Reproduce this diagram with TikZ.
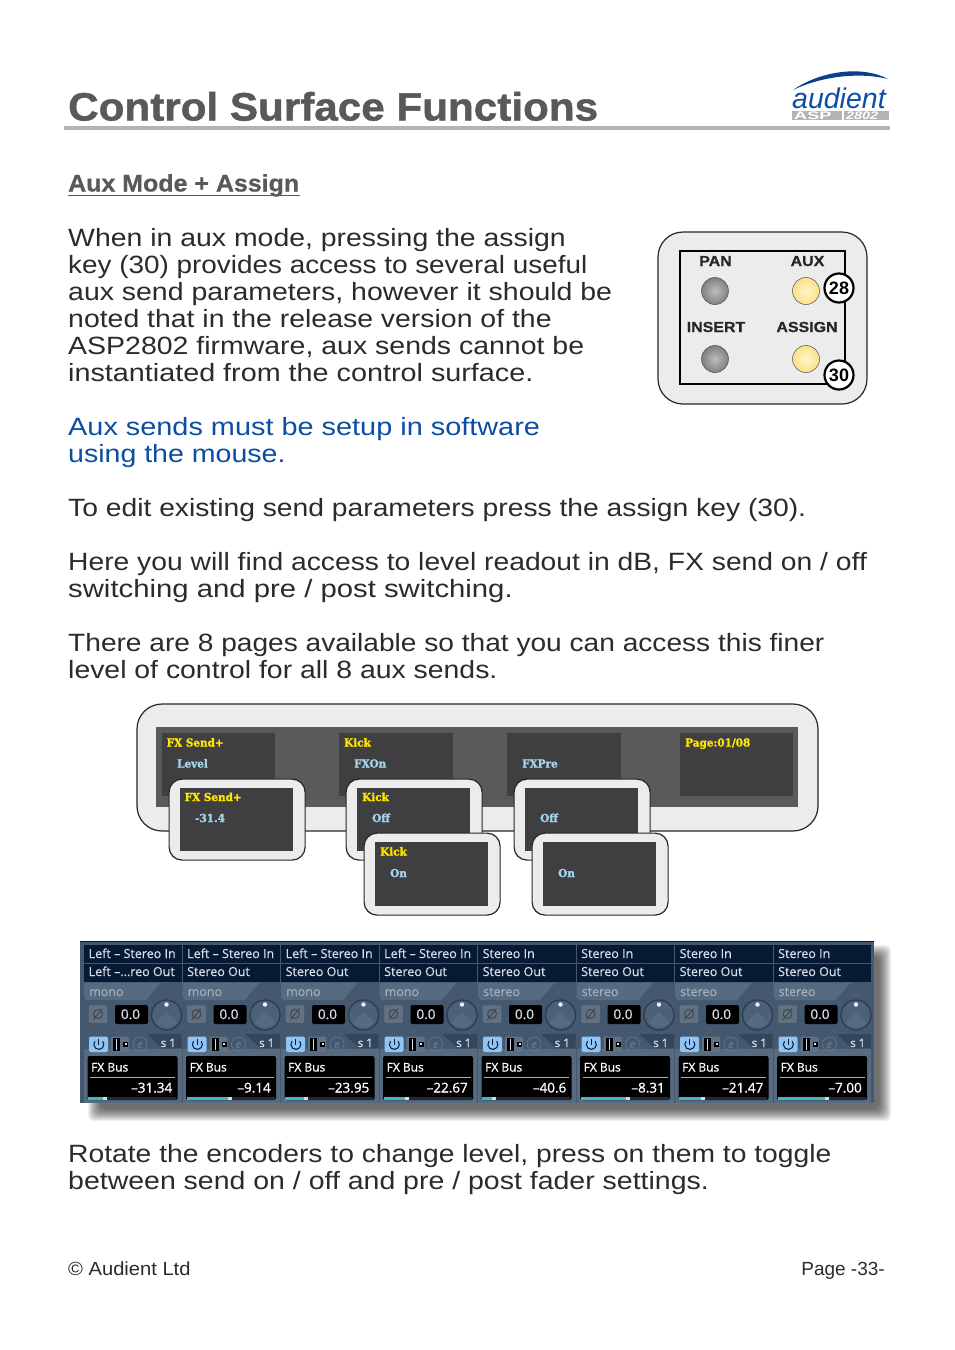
\documentclass[tikz,border=0pt]{standalone}
\usepackage{fontspec}
\setmainfont[FakeStretch=1.13]{Liberation Sans}
\newfontfamily\plainfont{Liberation Sans}
\newfontfamily\titlefont[FakeStretch=1.06,BoldFeatures={FakeBold=1.2}]{Liberation Sans}
\newfontfamily\headfont[FakeStretch=1.03,BoldFeatures={FakeBold=0.6}]{Liberation Sans}
\newfontfamily\keyfont[FakeStretch=1.1,BoldFeatures={FakeBold=0.6}]{Liberation Sans}
\newfontfamily\footfont[FakeStretch=1.06]{Liberation Sans}
\newfontfamily\lcdfont[FakeStretch=0.95,BoldFeatures={FakeBold=1.5}]{DejaVu Serif}
\newfontfamily\mixfont[FakeStretch=1,FakeBold=0.5]{Open Sans}
\newfontfamily\mixboldfont[FakeStretch=1,FakeBold=1]{Open Sans}
\newcommand{\sx}[2]{\scalebox{#1}[1]{#2}}
\definecolor{titlegray}{HTML}{58595B}
\definecolor{bodytxt}{HTML}{2B2B2B}
\definecolor{linkblue}{HTML}{0B4EA2}
\definecolor{ruleg}{HTML}{B3B3B3}
\definecolor{panelg}{HTML}{ECECEC}
\definecolor{lcdouter}{HTML}{5A5A5C}
\definecolor{lcdin}{HTML}{3F3F41}
\definecolor{lcdy}{HTML}{FFE600}
\definecolor{lcdb}{HTML}{A5D5EC}
\definecolor{mixbg}{HTML}{44586F}
\definecolor{mixdark}{HTML}{071A33}
\definecolor{mixband}{HTML}{566A80}
\definecolor{mixtab}{HTML}{33465B}
\definecolor{mixtxt}{HTML}{D5DEE8}
\definecolor{mixgr}{HTML}{A3AEBA}
\definecolor{mixbtn}{HTML}{5F7184}
\definecolor{cyanbar}{HTML}{3FB8C8}
\definecolor{pwrblue}{HTML}{8FC4F5}
\definecolor{ledgo}{HTML}{808080}
\definecolor{ledgi}{HTML}{BDBDBD}
\definecolor{ledyo}{HTML}{FBE08A}
\definecolor{ledyi}{HTML}{FFF6CC}
\tikzset{x=1pt,y=-1pt,
 bodyline/.style={anchor=base west,inner sep=0,text=bodytxt,font=\fontsize{25}{27}\selectfont},
 linkline/.style={bodyline,text=linkblue},
 panel/.style={draw=black!85,line width=1.2pt,fill=panelg,rounded corners=13pt},
 lcdtop/.style={anchor=base west,inner sep=0,text=lcdy,font=\lcdfont\bfseries\fontsize{11}{11}\selectfont},
 lcdval/.style={anchor=base west,inner sep=0,text=lcdb,font=\lcdfont\bfseries\fontsize{11}{11}\selectfont},
 keylabel/.style={inner sep=0,anchor=base,font=\keyfont\bfseries\fontsize{14.5}{14.5}\selectfont,text=black!85},
 numring/.style={circle,draw=black,line width=2.2pt,fill=white,minimum size=29pt,inner sep=0,font=\plainfont\bfseries\fontsize{18}{18}\selectfont},
 mixt/.style={anchor=base west,inner sep=0,text=mixtxt,font=\mixfont\fontsize{12.5}{12.5}\selectfont},
 mixg/.style={anchor=base west,inner sep=0,text=mixgr,font=\mixfont\fontsize{12.5}{12.5}\selectfont},
 mixw/.style={anchor=base west,inner sep=0,text=white,font=\mixboldfont\fontsize{12}{12}\selectfont},
 mixr/.style={anchor=base east,inner sep=0,text=white,font=\mixboldfont\fontsize{13.5}{13.5}\selectfont},
}
\newcommand{\lcdpop}[5]{% name x y w h
 \node[panel,minimum width=#4pt,minimum height=#5pt,inner sep=0,anchor=north west] (#1) at (#2,#3) {};
 \fill[lcdin] (#2+11.5,#3+9.5) rectangle (#2+#4-11.5,#3+#5-9);
}
\newcommand{\led}[5]{% name x y inner outer
 \node[circle,draw=black!70,line width=.5pt,minimum size=27pt,inner sep=0,shading=radial,inner color=#4,outer color=#5] (#1) at (#2,#3) {};
}
\newcommand{\strip}[7]{% x, line1, line2, mode, fader, barwidth, index
 \begin{scope}[shift={(#1,0)}]
 \fill[mixdark] (0,944.5) rectangle (97.5,962.5);
 \fill[mixdark] (0,963.5) rectangle (97.5,981.5);
 \fill[mixband] (0,982.5) -- (77,982.5) -- (62,1000) -- (3,1000) -- (0,997) -- cycle;
 \node[mixt] (x#7) at (4.5,958) {#2};
 \node[mixt] (a#7) at (4.5,976) {#3};
 \node[mixg] (m#7) at (5,996) {#4};
 \fill[mixbtn,draw=black!50,rounded corners=2pt] (5,1005.5) rectangle (23,1022.5);
 \draw[black!75,line width=.8pt] (14,1014) circle[radius=4.5pt] (9.5,1019.5)--(18.5,1008.5);
 \fill[black,rounded corners=2pt] (31,1005) rectangle (64,1024);
 \node[anchor=base,inner sep=0,text=mixtxt,font=\mixfont\fontsize{13.5}{13.5}\selectfont] (v#7) at (46.5,1019) {0.0};
 \fill[mixband!45!mixbg] (82.5,1015) circle[radius=15pt];
 \fill[mixband] (82.5,1012) -- (93,1022) .. controls (88,1029) and (77,1029) .. (72,1022) -- cycle;
 \draw[mixdark!85,line width=1.3pt] (82.5,1015) circle[radius=15pt];
 \fill[white!90!mixbtn] (82.5,1004.5) circle[radius=2.2pt];
 \fill[mixtab] (0,1034) -- (63,1034) -- (78,1048) -- (97.5,1048) -- (97.5,1034) -- cycle;
 \fill[mixbg] (0,1034) rectangle (63,1052);
 \fill[mixband] (0,1049) -- (97.5,1049) -- (97.5,1103) -- (0,1103) -- cycle;
 \fill[pwrblue,rounded corners=2pt] (5,1036.5) rectangle (24,1052);
 \draw[mixdark,line width=1pt] (14.5,1038.5) -- (14.5,1044.5);
 \draw[mixdark,line width=1pt] (11,1041.2) arc[start angle=140,delta angle=260,radius=5pt];
 \fill[mixbtn,rounded corners=1pt] (27,1036.5) rectangle (45,1052);
 \fill[black] (29,1037.5) rectangle (36,1051);
 \fill[mixtxt] (32,1038.5) rectangle (33.2,1050);
 \fill[black] (39,1041.5) rectangle (44,1046.5);
 \fill[mixtxt] (40.5,1043) rectangle (42.5,1045);
 \draw[mixband!90!white,line width=.6pt] (56,1044) circle[radius=7pt];
 \node[anchor=base,inner sep=0,text=mixband!90!white,font=\mixfont\itshape\fontsize{11}{11}\selectfont] (e#7) at (56,1048) {e};
 \node[anchor=base east,inner sep=0,text=mixtxt,font=\mixboldfont\fontsize{11.5}{11.5}\selectfont] (s#7) at (92,1047) {s 1};
 \fill[black,rounded corners=2pt] (3.5,1056) rectangle (93.5,1100);
 \draw[mixtxt!80!black,line width=.5pt] (6,1077) -- (91,1077);
 \node[mixw] (f#7) at (7,1071.5) {FX Bus};
 \node[mixr] (r#7) at (88.5,1092.5) {#5};
 \fill[black!60!mixband] (4,1097) rectangle (92,1099.5);
 \fill[cyanbar] (4,1097) rectangle (#6-4,1099.5);
 \fill[mixtxt] (#6-4,1097) rectangle (#6,1099.5);
 \end{scope}
}
\begin{document}
\begin{tikzpicture}
\useasboundingbox (0,0) rectangle (954,1350);
\fill[white] (0,0) rectangle (954,1350);
% title
\node[anchor=base west,inner sep=0,text=titlegray,font=\titlefont\bfseries\fontsize{39.5}{40}\selectfont] (title) at (68,120.5) {\sx{1.008}{Control Surface Functions}};
\fill[ruleg] (64,125.5) rectangle (890,130);
% logo
\fill[linkblue!85!black] (793,90) .. controls (820,71) and (862,65) .. (888,79) .. controls (860,72) and (822,76) .. (793,90) -- cycle;
\node[anchor=base west,inner sep=0,text=linkblue,font=\plainfont\itshape\fontsize{28.5}{28.5}\selectfont] (logo) at (792,108) {audient};
\fill[ruleg] (792,111) rectangle (889,119.5);
\fill[white] (842,111) rectangle (843.5,119.5);
\node[anchor=base west,inner sep=0,text=white,font=\plainfont\bfseries\fontsize{11}{11}\selectfont] (asp) at (794,119) {\sx{1.65}{ASP}};
\node[anchor=base west,inner sep=0,text=white,font=\plainfont\bfseries\itshape\fontsize{11}{11}\selectfont] (n2802) at (846,119) {\sx{1.3}{2802}};
% heading
\node[anchor=base west,inner sep=0,text=titlegray,font=\headfont\bfseries\fontsize{24}{24}\selectfont] (head) at (68,191.5) {\sx{1.01}{Aux Mode + Assign}};
\fill[titlegray] (68,194.5) rectangle (300,196);
% body
\node[bodyline] (l1) at (68,246) {\sx{1.006}{When in aux mode, pressing the assign}};
\node[bodyline] (l2) at (68,273) {\sx{0.987}{key (30) provides access to several useful}};
\node[bodyline] (l3) at (68,300) {\sx{1.007}{aux send parameters, however it should be}};
\node[bodyline] (l4) at (68,327) {\sx{1.006}{noted that in the release version of the}};
\node[bodyline] (l5) at (68,354) {\sx{1.008}{ASP2802 firmware, aux sends cannot be}};
\node[bodyline] (l6) at (68,381) {\sx{1.018}{instantiated from the control surface.}};
\node[linkline] (b1) at (68,435) {\sx{1.022}{Aux sends must be setup in software}};
\node[linkline] (b2) at (68,462) {\sx{1.01}{using the mouse.}};
\node[bodyline] (p1) at (68,516) {To edit existing send parameters press the assign key (30).};
\node[bodyline] (p2) at (68,570) {Here you will find access to level readout in dB, FX send on / off};
\node[bodyline] (p3) at (68,597) {\sx{1.037}{switching and pre / post switching.}};
\node[bodyline] (p4) at (68,651) {\sx{0.995}{There are 8 pages available so that you can access this finer}};
\node[bodyline] (p5) at (68,678) {\sx{1.005}{level of control for all 8 aux sends.}};
% key panel
\draw[draw=black!85,line width=1.2pt,fill=panelg,rounded corners=25pt] (658,232) rectangle (867,404);
\draw[black,line width=1.6pt] (680,251) rectangle (845,384);
\node[keylabel] (kpan) at (715.5,266) {PAN};
\node[keylabel] (kaux) at (807.5,266) {AUX};
\node[keylabel] (kins) at (716,332) {INSERT};
\node[keylabel] (kass) at (807,332) {ASSIGN};
\led{lpan}{715}{291}{ledgi}{ledgo}
\led{lins}{715}{359}{ledgi}{ledgo}
\led{laux}{806}{291}{ledyi}{ledyo}
\led{lass}{806}{359}{ledyi}{ledyo}
\node[numring] (n28) at (839,288) {28};
\node[numring] (n30) at (839,375) {30};
% LCD strip
\draw[panel,rounded corners=25pt,draw=black!85] (137,704) rectangle (818,831);
\fill[lcdouter] (156,727) rectangle (798,807);
\fill[lcdin] (162,733) rectangle (275,796);
\fill[lcdin] (339,733) rectangle (453,796);
\fill[lcdin] (507,733) rectangle (621,796);
\fill[lcdin] (680,733) rectangle (793,796);
\node[lcdtop] (t1) at (166.5,746.5) {FX Send+};
\node[lcdval] (t2) at (177,767.5) {Level};
\node[lcdtop] (t3) at (344,746.5) {Kick};
\node[lcdval] (t4) at (354,767.5) {FXOn};
\node[lcdval] (t5) at (522,767.5) {FXPre};
\node[lcdtop] (t6) at (685,746.5) {Page:01/08};
\lcdpop{pa}{168.5}{778.5}{136}{81}
\lcdpop{pb}{345.5}{778.5}{136}{81}
\lcdpop{pc}{513.5}{778.5}{136}{81}
\lcdpop{pd}{363.5}{832.5}{136}{82}
\lcdpop{pe}{531.5}{832.5}{136}{82}
\node[lcdtop] (u1) at (184.5,801) {FX Send+};
\node[lcdval] (u2) at (195,822) {-31.4};
\node[lcdtop] (u3) at (362,801) {Kick};
\node[lcdval] (u4) at (372,822) {Off};
\node[lcdval] (u5) at (540,822) {Off};
\node[lcdtop] (u6) at (380,855.5) {Kick};
\node[lcdval] (u7) at (390,877) {On};
\node[lcdval] (u8) at (558,877) {On};
% mixer shadow
\foreach \i in {0,...,12}{\fill[black,opacity=.06,rounded corners=6pt] (88+\i,945+\i) rectangle (891-\i,1121-\i);}
\fill[mixbg] (80,941) rectangle (874,1103);
\fill[black!80!mixbg] (80,941) rectangle (874,942);
\strip{84}{Left – Stereo In}{Left –...reo Out}{mono}{–31.34}{23}{1}
\strip{182.5}{Left – Stereo In}{Stereo Out}{mono}{–9.14}{49.5}{2}
\strip{281}{Left – Stereo In}{Stereo Out}{mono}{–23.95}{27}{3}
\strip{379.5}{Left – Stereo In}{Stereo Out}{mono}{–22.67}{29}{4}
\strip{478}{Stereo In}{Stereo Out}{stereo}{–40.6}{18}{5}
\strip{576.5}{Stereo In}{Stereo Out}{stereo}{–8.31}{53.5}{6}
\strip{675}{Stereo In}{Stereo Out}{stereo}{–21.47}{30}{7}
\strip{773.5}{Stereo In}{Stereo Out}{stereo}{–7.00}{55}{8}
% bottom text
\node[bodyline] (q1) at (68,1162) {Rotate the encoders to change level, press on them to toggle};
\node[bodyline] (q2) at (68,1189) {\sx{1.008}{between send on / off and pre / post fader settings.}};
\node[anchor=base west,inner sep=0,text=bodytxt,font=\footfont\fontsize{19}{19}\selectfont] (foot1) at (68,1275) {© Audient Ltd};
\node[anchor=base east,inner sep=0,text=bodytxt,font=\plainfont\fontsize{19}{19}\selectfont] (foot2) at (885,1275) {Page -33-};
\end{tikzpicture}
\end{document}
